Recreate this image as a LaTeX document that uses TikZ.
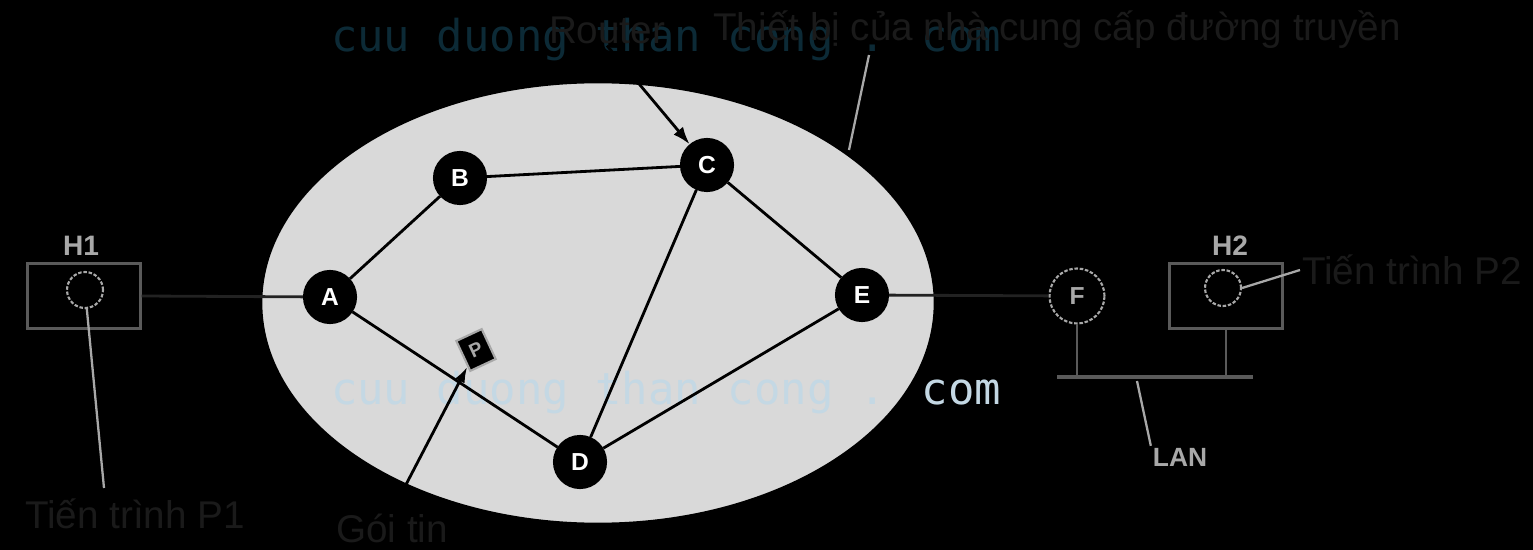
\documentclass[tikz,border=0pt]{standalone}
\usepackage{fontspec}
\setmainfont{Liberation Sans}
\newfontfamily\wmfont{DejaVu Sans Mono}
\usetikzlibrary{arrows.meta}
\definecolor{ellfill}{HTML}{D9D9D9}
\definecolor{lblcol}{HTML}{1A1A1A}
\definecolor{spk}{HTML}{A8A8A8}
\definecolor{boxcol}{HTML}{5A5A5A}
\definecolor{wmtop}{HTML}{0C2A36}
\definecolor{wmbot}{HTML}{C4D8E4}
\definecolor{outedge}{HTML}{222222}
\tikzset{
  router/.style={circle, fill=black, draw=black, line width=1.2pt, minimum size=1.04cm, inner sep=0pt,
    text=white, font=\fontsize{14}{14}\selectfont\bfseries},
  extrouter/.style={circle, fill=black, draw=spk, dash pattern=on 2pt off 1pt, line width=1.2pt, minimum size=1.1cm, inner sep=0pt,
    text=spk, font=\fontsize{14}{14}\selectfont\bfseries},
  proc/.style={circle, draw=spk, dash pattern=on 2pt off 1pt, line width=1.2pt, minimum size=0.72cm, inner sep=0pt},
  hostbox/.style={rectangle, draw=boxcol, line width=1.2pt, minimum width=2.26cm, minimum height=1.3cm, inner sep=0pt},
  lbl/.style={text=lblcol, font=\fontsize{22}{26}\selectfont, inner sep=1pt},
  hlbl/.style={text=spk, font=\fontsize{16}{18}\selectfont\bfseries, inner sep=1pt},
  packet/.style={rectangle, fill=black, draw=spk, line width=1.2pt, minimum width=0.56cm, minimum height=0.66cm, inner sep=0pt,
    text=spk, font=\fontsize{11}{11}\selectfont\bfseries},
  link/.style={draw=black, line width=1.6pt},
  outlink/.style={draw=outedge, line width=1.6pt},
  pointer/.style={draw=spk, line width=1.3pt},
  wm/.style={font=\wmfont\fontsize{25}{28}\selectfont, inner sep=0pt},
}
\begin{document}
\begin{tikzpicture}[x=0.02cm, y=-0.02cm]
\fill[black] (0,0) rectangle (1533,550);
\useasboundingbox (0,0) rectangle (1533,550);

% top watermark (behind labels)
\node[wm, text=wmtop] (wmA) at (666,40) {cuu duong than cong . com};

% carrier cloud
\draw[fill=ellfill, draw=black, line width=1.5pt] (598,303) ellipse [x radius=337, y radius=221];

% bottom watermark
\node[wm, text=wmbot] (wmB) at (666,393) {cuu duong than cong . com};

% routers
\node[router] (A) at (330,297) {A};
\node[router] (B) at (460,178) {B};
\node[router] (C) at (707,165) {C};
\node[router] (E) at (862,295) {E};
\node[router] (D) at (580,462) {D};
\node[extrouter] (F) at (1077,296) {F};

% packet
\node[packet, rotate=25] (pk) at (476,350) {P};

% hosts
\node[hostbox] (h1) at (84,296) {};
\node[proc] (p1c) at (85,290) {};
\node[hlbl] (h1l) at (81,246) {H1};

\node[hostbox] (h2) at (1226,296) {};
\node[proc] (p2c) at (1223,288) {};
\node[hlbl] (h2l) at (1230,246) {H2};

% LAN bus
\coordinate (busL) at (1057,377);
\coordinate (busR) at (1253,377);
\draw[draw=boxcol, line width=2.6pt] (busL) -- (busR);

% links
\draw[outlink] (h1.east) -- (A);
\draw[link] (A) -- (B);
\draw[link] (B) -- (C);
\draw[link] (A) -- (D);
\draw[link] (C) -- (D);
\draw[link] (C) -- (E);
\draw[link] (D) -- (E);
\draw[outlink] (E) -- (F);
\draw[draw=boxcol, line width=1.4pt] (F) -- (F |- busL);
\draw[draw=boxcol, line width=1.4pt] (h2.south) -- (h2.south |- busL);

% labels
\node[lbl] (rt) at (607,30) {Router};
\node[lbl] (tb) at (1057,30) {Thiết bị của nhà cung cấp đường truyền};
\node[lbl] (p1) at (135,514) {Tiến trình P1};
\node[lbl] (goi) at (392,528) {Gói tin};
\node[lbl] (p2) at (1412,270) {Tiến trình P2};
\node[text=spk, font=\fontsize{15}{16}\selectfont\bfseries, inner sep=1pt] (lan) at (1180,457) {LAN};

% pointers
\coordinate (tbfoot) at (869,55);
\coordinate (tbedge) at (849,150);
\coordinate (p1top) at (104,488);
\coordinate (lanbus) at (1137,381);
\draw[pointer] (tbfoot) -- (tbedge);
\draw[pointer] (p1top) -- (p1c);
\draw[pointer] (lan.north west) -- (lanbus);
\draw[pointer] (p2.west) -- (p2c.east);
\draw[link, -{Latex[length=10pt,width=7pt]}] (rt.south) -- (C);
\draw[link, -{Latex[length=9pt,width=6pt]}] (goi.north) -- (pk);
\end{tikzpicture}
\end{document}
